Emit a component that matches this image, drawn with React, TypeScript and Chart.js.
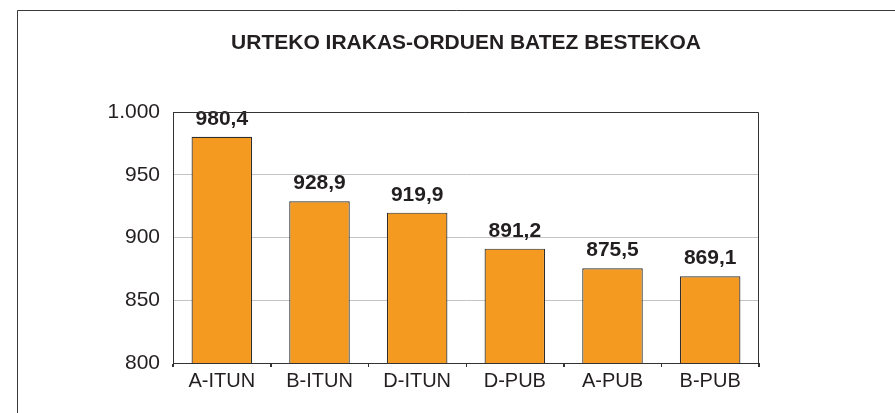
import React, { useEffect, useRef } from "react";
import { Chart, registerables } from "chart.js";

Chart.register(...registerables);

const categories = ["A-ITUN", "B-ITUN", "D-ITUN", "D-PUB", "A-PUB", "B-PUB"];
const values = [980.4, 928.9, 919.9, 891.2, 875.5, 869.1];
const yTicks = [800, 850, 900, 950, 1000];
const titleText = "URTEKO IRAKAS-ORDUEN BATEZ BESTEKOA";

const FONT = "'Liberation Sans', Arial, sans-serif";
const TEXT = "#231f20";

const fmtThousands = (v: number) => {
  const s = Math.round(v).toString();
  return s.replace(/\B(?=(\d{3})+(?!\d))/g, ".");
};
const fmtDecimal = (v: number) => v.toFixed(1).replace(".", ",");

const framePlugin = {
  id: "frames",
  beforeDraw(chart: any) {
    const { ctx, width, height } = chart;
    ctx.save();
    ctx.fillStyle = "#ffffff";
    ctx.fillRect(0, 0, width, height);
    ctx.strokeStyle = "#3a3a3a";
    ctx.lineWidth = 1;
    ctx.beginPath();
    ctx.moveTo(17.5, height);
    ctx.lineTo(17.5, 10.5);
    ctx.lineTo(width, 10.5);
    ctx.stroke();
    ctx.restore();
  },
  afterDraw(chart: any) {
    const { ctx, chartArea } = chart;
    const xs = chart.scales.x;
    ctx.save();
    ctx.strokeStyle = "#333333";
    ctx.lineWidth = 1;
    ctx.beginPath();
    const t = Math.round(chartArea.top) + 0.5;
    const r = Math.round(chartArea.right) - 0.5;
    const b = Math.round(chartArea.bottom);
    ctx.moveTo(Math.round(chartArea.left), t);
    ctx.lineTo(r, t);
    ctx.lineTo(r, b + 4);
    // category boundary tick marks below the x axis
    const n = categories.length;
    const step = (xs.getPixelForValue(1) - xs.getPixelForValue(0));
    for (let i = 0; i <= n; i++) {
      const x = Math.round(xs.getPixelForValue(0) - step / 2 + i * step) + 0.5;
      ctx.moveTo(x, b);
      ctx.lineTo(x, b + 4);
    }
    ctx.stroke();
    ctx.restore();
  },
};

const labelPlugin = {
  id: "barLabels",
  afterDatasetsDraw(chart: any) {
    const { ctx } = chart;
    const meta = chart.getDatasetMeta(0);
    ctx.save();
    ctx.font = `bold 21px ${FONT}`;
    ctx.fillStyle = TEXT;
    ctx.textAlign = "center";
    ctx.textBaseline = "alphabetic";
    meta.data.forEach((bar: any, i: number) => {
      ctx.fillText(fmtDecimal(values[i]), bar.x, bar.y - 12);
    });
    ctx.restore();
  },
};

export default function App() {
  const ref = useRef<HTMLCanvasElement | null>(null);

  useEffect(() => {
    document.body.style.margin = "0";
    if (!ref.current) return;
    const chart = new Chart(ref.current, {
      type: "bar",
      data: {
        labels: categories,
        datasets: [
          {
            data: values,
            backgroundColor: "#f49a21",
            borderColor: "#2e2e2e",
            borderWidth: 1.2,
            borderSkipped: "bottom",
            categoryPercentage: 1,
            barPercentage: 0.62,
          },
        ],
      },
      options: {
        animation: false,
        responsive: false,
        devicePixelRatio: 1,
        layout: { padding: { left: 0, right: 136, top: 0, bottom: 0 } },
        plugins: {
          legend: { display: false },
          tooltip: { enabled: false },
          title: {
            display: true,
            fullSize: false,
            text: titleText,
            color: TEXT,
            font: { family: FONT, size: 21, weight: "bold", lineHeight: 1.2 },
            padding: { top: 31, bottom: 56 },
          },
        },
        scales: {
          x: {
            afterFit: (s: any) => {
              s.height = 50;
            },
            grid: {
              display: true,
              offset: true,
              drawOnChartArea: false,
              drawTicks: true,
              tickLength: 4,
              color: "#333333",
              lineWidth: 1,
            },
            border: { display: true, color: "#333333", width: 1 },
            ticks: {
              color: TEXT,
              padding: 2,
              font: { family: FONT, size: 20 },
              maxRotation: 0,
              autoSkip: false,
            },
          },
          y: {
            min: 800,
            max: 1000,
            afterFit: (s: any) => {
              s.width = 173;
            },
            afterBuildTicks: (s: any) => {
              s.ticks = yTicks.map((v) => ({ value: v }));
            },
            grid: { color: "#c4c4c4", drawTicks: false, lineWidth: 1 },
            border: { display: true, color: "#333333", width: 1 },
            ticks: {
              color: TEXT,
              padding: 13,
              font: { family: FONT, size: 21 },
              callback: (v: any) => fmtThousands(Number(v)),
            },
          },
        },
      },
      plugins: [framePlugin, labelPlugin],
    });
    return () => chart.destroy();
  }, []);

  return (
    <div style={{ width: 895, height: 413 }}>
      <canvas ref={ref} width={895} height={413} style={{ display: "block" }} />
    </div>
  );
}
